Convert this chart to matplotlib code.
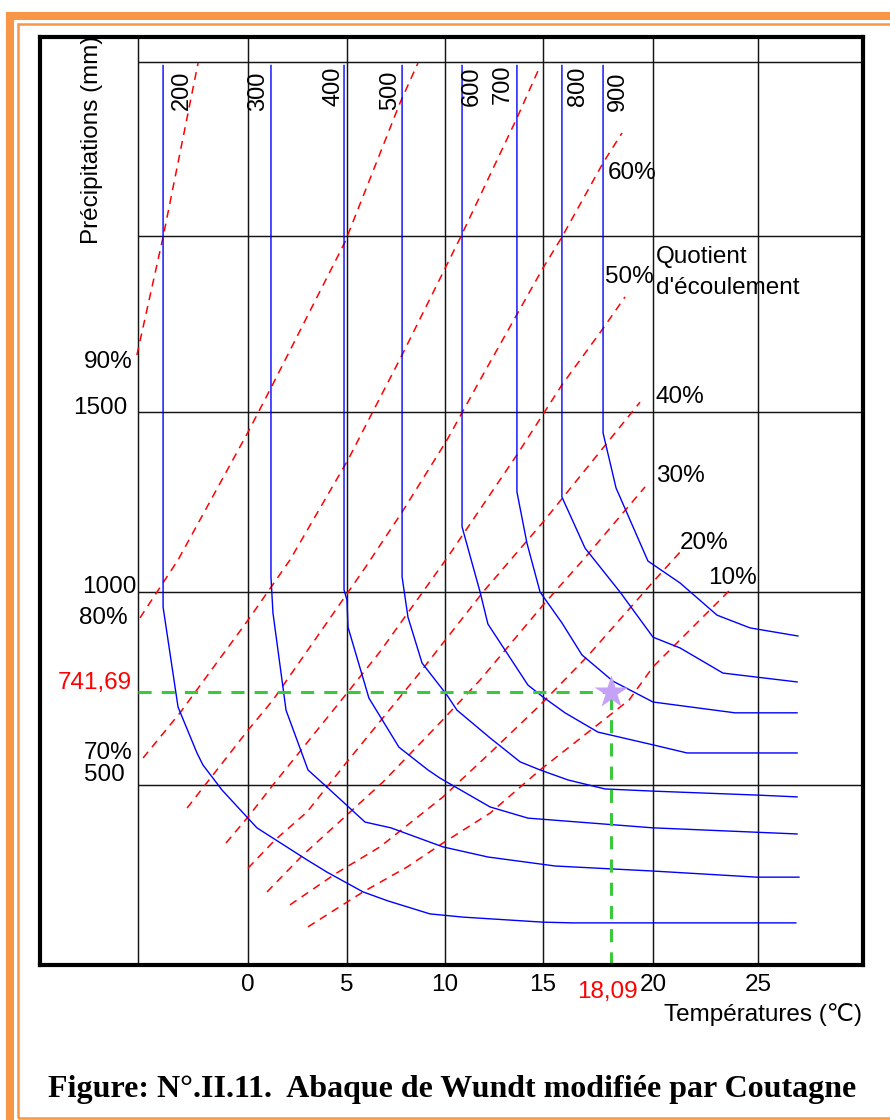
import numpy as np
import matplotlib
matplotlib.use("Agg")
import matplotlib.pyplot as plt
from matplotlib.patches import Rectangle

plt.rcParams['font.family'] = ['Liberation Sans', 'DejaVu Sans']

# ---------------- data ----------------
grid_T = [-5, 0, 5, 10, 15, 20, 25]
grid_P = [500, 1000, 1500, 2000, 2500]
tick_T = [0, 5, 10, 15, 20, 25]
tick_labels = ['0', '5', '10', '15', '20', '25']

# blue iso-lines (deficit, mm)
c200_T = [-3.86, -3.86, -3.18, -2.32, -2.05, -1.18, 0.45, 2.98, 3.99, 5.82, 7.09, 9.23, 10.92, 15.0, 16.36, 26.8]
c200_P = [2490, 961, 702, 583, 552, 486, 381, 292, 258, 203, 178, 142, 133, 119, 117, 117]
c300_T = [1.16, 1.16, 1.26, 1.92, 3.03, 3.99, 5.92, 7.24, 9.9, 12.19, 15.55, 20.0, 24.95, 26.95]
c300_P = [2490, 1042, 946, 694, 539, 494, 397, 381, 328, 300, 275, 261, 244, 244]
c400_T = [4.85, 4.85, 5.0, 5.05, 6.12, 7.65, 9.13, 9.74, 12.3, 14.23, 20.0, 26.86]
c400_P = [2490, 1006, 979, 909, 725, 598, 539, 518, 439, 408, 381, 364]
c500_T = [7.81, 7.81, 8.11, 8.83, 10.1, 10.61, 12.3, 13.83, 14.85, 16.14, 17.82, 20.0, 24.95, 26.86]
c500_P = [2490, 1042, 935, 816, 733, 694, 622, 560, 539, 513, 489, 483, 472, 467]
c600_T = [10.87, 10.87, 11.79, 12.19, 14.23, 15.0, 16.0, 17.5, 20.0, 21.62, 26.86]
c600_P = [2490, 1181, 1000, 917, 759, 728, 687, 637, 604, 583, 583]
c700_T = [13.67, 13.67, 14.18, 14.85, 15.86, 16.77, 18.18, 20.0, 23.9, 26.86]
c700_P = [2490, 1278, 1136, 1000, 920, 837, 769, 715, 687, 687]
c800_T = [15.86, 15.86, 16.91, 18.5, 20.0, 21.29, 23.33, 26.86]
c800_P = [2490, 1264, 1122, 1000, 883, 855, 790, 767]
c900_T = [17.73, 17.73, 18.32, 19.77, 21.29, 23.05, 24.62, 26.9]
c900_P = [2490, 1442, 1289, 1086, 1025, 940, 907, 886]

blue_T = [c200_T, c300_T, c400_T, c500_T, c600_T, c700_T, c800_T, c900_T]
blue_P = [c200_P, c300_P, c400_P, c500_P, c600_P, c700_P, c800_P, c900_P]
blue_labels = ['200', '300', '400', '500', '600', '700', '800', '900']
blue_lab_T = [-3.0, 0.51, 4.34, 7.19, 11.38, 12.96, 16.59, 18.41]
blue_lab_P = [2420, 2417, 2431, 2420, 2431, 2437, 2431, 2417]

# red dashed lines (quotient d'écoulement)
q90_T = [-5.05, -3.86, -2.27]
q90_P = [1662, 1997, 2497]
q80_T = [-4.91, -3.18, 0.0, 1.11, 4.9, 7.7, 8.62]
q80_P = [933, 1089, 1444, 1563, 1983, 2382, 2497]
q70_T = [-4.77, -3.09, 0.0, 2.12, 5.05, 7.81, 10.77, 13.67, 14.74]
q70_P = [570, 687, 927, 1089, 1367, 1662, 1994, 2339, 2474]
q60_T = [-2.77, 0.0, 1.26, 5.92, 7.81, 10.1, 11.79, 15.0, 15.86, 17.73, 18.59]
q60_P = [436, 642, 720, 1067, 1222, 1422, 1591, 1909, 1997, 2210, 2296]
q50_T = [-1.0, 0.0, 1.26, 5.0, 6.68, 10.1, 13.67, 15.86, 17.68, 18.73]
q50_P = [339, 411, 500, 738, 845, 1094, 1381, 1577, 1733, 1827]
q40_T = [0.0, 1.36, 2.98, 5.0, 8.62, 11.94, 15.0, 19.41]
q40_P = [269, 347, 425, 560, 785, 1000, 1194, 1528]
q30_T = [0.96, 2.78, 5.0, 6.84, 9.74, 11.79, 15.0, 16.82, 19.64]
q30_P = [203, 306, 417, 508, 661, 772, 966, 1089, 1292]
q20_T = [2.12, 4.49, 6.68, 9.9, 12.3, 14.85, 17.0, 20.0, 21.29]
q20_P = [167, 256, 328, 467, 583, 707, 832, 1028, 1111]
q10_T = [3.03, 5.82, 8.06, 9.9, 12.3, 14.85, 18.91, 20.0, 23.81]
q10_P = [106, 203, 272, 339, 422, 539, 720, 806, 1014]

red_T = [q90_T, q80_T, q70_T, q60_T, q50_T, q40_T, q30_T, q20_T, q10_T]
red_P = [q90_P, q80_P, q70_P, q60_P, q50_P, q40_P, q30_P, q20_P, q10_P]

# quotient labels
right_labels = ['60%', '50%', '40%', '30%', '20%', '10%']
right_T = [17.95, 17.82, 20.14, 20.14, 21.29, 22.62]
right_P = [2181, 1884, 1542, 1322, 1136, 1039]
left_labels = ['90%', '1500', '1000', '80%', '70%', '500']
left_T = [-5.23, -5.5, -5.05, -5.45, -5.27, -5.59]
left_P = [1642, 1511, 1014, 933, 583, 526]

# station point
T_point = 18.09
P_point = 741.69
T_point_label = '18,09'
P_point_label = '741,69'

# ---------------- scales (irregular grid of the original abacus) ----------------
CAL_T = [-5, 0, 5, 10, 15, 20, 25]
CAL_TX = [138, 248, 347, 445, 543, 653, 758]
CAL_P = [0, 500, 1000, 1500, 2000, 2500]
CAL_PY = [0, 180, 373, 553, 729, 903]


def make_interp(xk, yk):
    xk = np.asarray(xk, float)
    yk = np.asarray(yk, float)

    def f(v):
        v = np.asarray(v, float)
        out = np.interp(v, xk, yk)
        lo_s = (yk[1] - yk[0]) / (xk[1] - xk[0])
        hi_s = (yk[-1] - yk[-2]) / (xk[-1] - xk[-2])
        out = np.where(v < xk[0], yk[0] + (v - xk[0]) * lo_s, out)
        out = np.where(v > xk[-1], yk[-1] + (v - xk[-1]) * hi_s, out)
        return out
    return f


fx = make_interp(CAL_T, CAL_TX)
fxi = make_interp(CAL_TX, CAL_T)
fy = make_interp(CAL_P, CAL_PY)
fyi = make_interp(CAL_PY, CAL_P)

# ---------------- figure ----------------
W, H = 890, 1120
fig = plt.figure(figsize=(W / 100, H / 100), dpi=100)

ORANGE = '#F79646'
fig.patches.append(Rectangle((10 / W, 1 - 1140 / H), 900 / W, (1140 - 16) / H,
                             transform=fig.transFigure, fill=False,
                             edgecolor=ORANGE, linewidth=5.8, zorder=0))
fig.patches.append(Rectangle((17.5 / W, 1 - 1118 / H), 900 / W, (1118 - 23.5) / H,
                             transform=fig.transFigure, fill=False,
                             edgecolor=ORANGE, linewidth=1.8, zorder=0))

ax = fig.add_axes([40 / W, (H - 965) / H, (863 - 40) / W, (965 - 37) / H])
ax.set_xscale('function', functions=(fx, fxi))
ax.set_yscale('function', functions=(fy, fyi))
x_left = float(fxi(40))
x_right = float(fxi(863))
y_top = float(fyi(928))
ax.set_xlim(x_left, x_right)
ax.set_ylim(0, y_top)
ax.set_xticks([])
ax.set_yticks([])
ax.minorticks_off()
for s in ax.spines.values():
    s.set_linewidth(3.0)
    s.set_color('black')
    s.set_zorder(20)

# grid
ax.vlines(grid_T, 0, y_top, colors='#151515', linewidth=1.05, zorder=1)
ax.hlines(grid_P, -5, x_right, colors='#151515', linewidth=1.05, zorder=1)

# red dashed quotient lines
for T, P in zip(red_T, red_P):
    ax.plot(T, P, color='#ff0000', linewidth=1.1, linestyle=(0, (5.2, 4.0)), zorder=3)

# blue iso-lines
for T, P in zip(blue_T, blue_P):
    ax.plot(T, P, color='#0000ff', linewidth=1.0, zorder=4)

for lab, t, p in zip(blue_labels, blue_lab_T, blue_lab_P):
    ax.text(t, p, lab, rotation=90, ha='center', va='center', fontsize=17, color='black', zorder=6)

# green reading lines + star
ax.plot([-5, T_point], [P_point, P_point], color='#3cc83c', linewidth=2.2,
        linestyle=(0, (4.3, 3.3)), zorder=7)
ax.plot([T_point, T_point], [0, P_point], color='#3cc83c', linewidth=2.2,
        linestyle=(0, (4.3, 3.3)), zorder=7)
ax.plot([T_point], [P_point], marker='*', markersize=25, color='#c6a2f7',
        markeredgecolor='none', linestyle='none', zorder=9)

# labels inside the box
FS = 17.5
for lab, t, p in zip(right_labels, right_T, right_P):
    ax.text(t, p, lab, ha='left', va='center', fontsize=FS, zorder=8)
ax.text(20.14, 1940, 'Quotient', ha='left', va='center', fontsize=FS, zorder=8)
ax.text(20.14, 1852, "d'écoulement", ha='left', va='center', fontsize=FS, zorder=8)

for lab, t, p in zip(left_labels, left_T, left_P):
    ax.text(t, p, lab, ha='right', va='center', fontsize=FS, zorder=8)
ax.text(-5.27, 764, P_point_label, ha='right', va='center', fontsize=FS, color='#ff0000', zorder=8)

ax.text((92 - 40) / 823, (965 - 140) / 928, 'Précipitations (mm)', rotation=90,
        ha='center', va='center', fontsize=FS, transform=ax.transAxes)

# labels below the box
xtr = ax.get_xaxis_transform()
for t, lab in zip(tick_T, tick_labels):
    ax.text(t, -0.0215, lab, ha='center', va='center', fontsize=FS, transform=xtr, clip_on=False)
ax.text(17.95, -0.0295, T_point_label, ha='center', va='center', fontsize=FS,
        color='#ff0000', transform=xtr, clip_on=False)
ax.text(0.9988, -0.053, 'Températures (℃)', ha='right', va='center', fontsize=FS,
        transform=ax.transAxes, clip_on=False)

fig.text(452 / W, 1 - 1089 / H, 'Figure: N°.II.11.  Abaque de Wundt modifiée par Coutagne',
         ha='center', va='center', fontsize=23, fontweight='bold',
         family=['Liberation Serif', 'DejaVu Serif'])

fig.savefig('out.png', dpi=100)
